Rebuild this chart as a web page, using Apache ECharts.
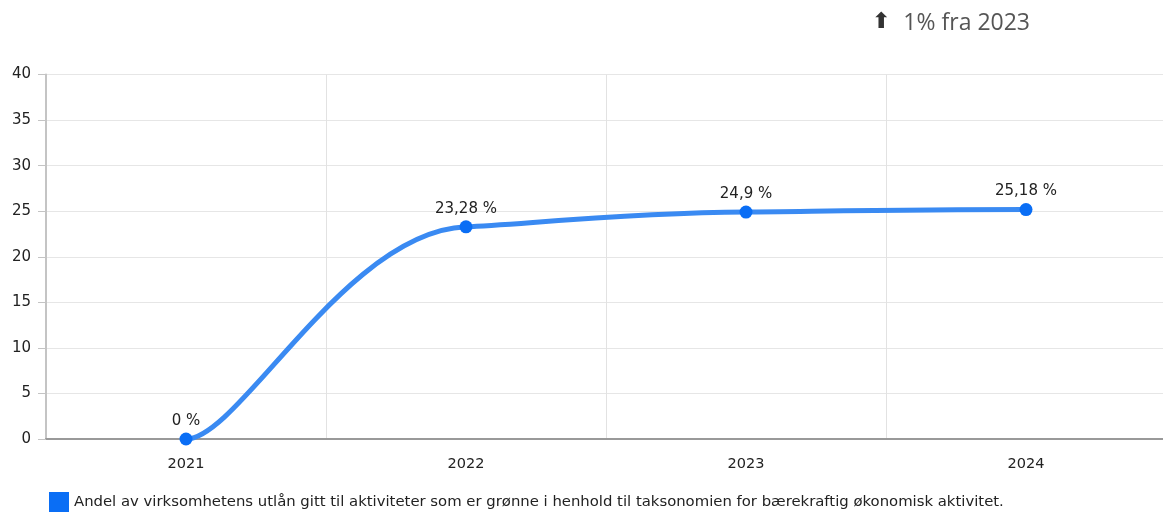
<!DOCTYPE html>
<html><head><meta charset="utf-8">
<script src="https://cdn.jsdelivr.net/npm/echarts@6/dist/echarts.min.js"></script>
<style>html,body{margin:0;padding:0;background:#fff;overflow:hidden}#c{width:1166px;height:515px}</style>
</head><body><div id="c"></div>
<script>
const categories = ['2021', '2022', '2023', '2024'];
const values = [0, 23.28, 24.9, 25.18];
const seriesName = 'Andel av virksomhetens utlån gitt til aktiviteter som er grønne i henhold til taksonomien for bærekraftig økonomisk aktivitet.';
const headline = '1% fra 2023';
const yTicks = [0, 5, 10, 15, 20, 25, 30, 35, 40];

const chart = echarts.init(document.getElementById('c'));
const font = 'Verdana, "DejaVu Sans", sans-serif';
const lineColor = '#3a8af2';
const dotColor = '#0a6ef5';

// spline shape parameters (styling of the curve)
const CP_OUT = 0.19, CP_IN = 0.43, TAN_K = 0.75;
function tangent(pts, i) {
  if (i === 0 || i === pts.length - 1) return 0;
  const s0 = (pts[i][1] - pts[i-1][1]) / (pts[i][0] - pts[i-1][0]);
  const s1 = (pts[i+1][1] - pts[i][1]) / (pts[i+1][0] - pts[i][0]);
  if (s0 * s1 <= 0) return 0;
  return Math.sign(s0) * TAN_K * Math.min(Math.abs(s0), Math.abs(s1));
}

chart.setOption({
  animation: false,
  textStyle: { fontFamily: font },
  title: {
    text: '{arrow|⬆}' + headline,
    right: 131, top: 6,
    textStyle: {
      fontFamily: '"Open Sans", sans-serif', fontSize: 23, fontWeight: 'normal', color: '#555',
      rich: { arrow: { fontFamily: '"DejaVu Sans"', fontSize: 22, fontWeight: 'bold', color: '#333', padding: [0, 13, 2, 0] } }
    }
  },
  grid: { left: 46, right: 0, top: 74.5, bottom: 76, containLabel: false },
  legend: {
    left: 44, bottom: -2, itemWidth: 20, itemHeight: 20, itemGap: 6,
    icon: 'rect',
    textStyle: { fontSize: 14.85, color: '#222', fontFamily: font },
    data: [{ name: seriesName, itemStyle: { color: dotColor } }]
  },
  xAxis: {
    type: 'category', data: categories, boundaryGap: true,
    axisLine: { lineStyle: { color: '#999', width: 2 } },
    axisTick: { alignWithLabel: true, length: 6, lineStyle: { color: '#bbb' } },
    axisLabel: { fontSize: 14.5, color: '#222', margin: 18 },
    splitLine: { show: true, lineStyle: { color: '#e2e2e2' } }
  },
  yAxis: {
    type: 'value', min: 0, max: 40, interval: 5,
    axisLine: { show: true, lineStyle: { color: '#c4c4c4', width: 2 } },
    axisTick: { show: true, length: 8, lineStyle: { color: '#c4c4c4' } },
    axisLabel: { fontSize: 15, color: '#222', margin: 15 },
    splitLine: { lineStyle: { color: '#e6e6e6' } }
  },
  series: [{
    name: 'curve', type: 'custom', data: values, z: 2, silent: true,
    renderItem: function (params, api) {
      if (params.dataIndex !== 0) return null;
      const pts = values.map((v, i) => api.coord([i, v]));
      const children = [];
      for (let i = 0; i < pts.length - 1; i++) {
        const [x0, y0] = pts[i], [x1, y1] = pts[i + 1];
        const dx = x1 - x0;
        const m0 = tangent(pts, i), m1 = tangent(pts, i + 1);
        children.push({
          type: 'bezierCurve',
          shape: {
            x1: x0, y1: y0, x2: x1, y2: y1,
            cpx1: x0 + CP_OUT * dx, cpy1: y0 + CP_OUT * dx * m0,
            cpx2: x1 - CP_IN * dx, cpy2: y1 - CP_IN * dx * m1
          },
          style: { fill: null, stroke: lineColor, lineWidth: 5, lineCap: 'round' }
        });
      }
      return { type: 'group', children: children };
    }
  }, {
    name: seriesName, type: 'line', data: values, z: 3,
    symbol: 'circle', symbolSize: 13,
    lineStyle: { width: 0, opacity: 0 },
    itemStyle: { color: dotColor },
    label: {
      show: true, position: 'top', distance: 4, fontSize: 15, color: '#222',
      formatter: p => String(p.value).replace('.', ',') + ' %'
    }
  }]
});
</script></body></html>
